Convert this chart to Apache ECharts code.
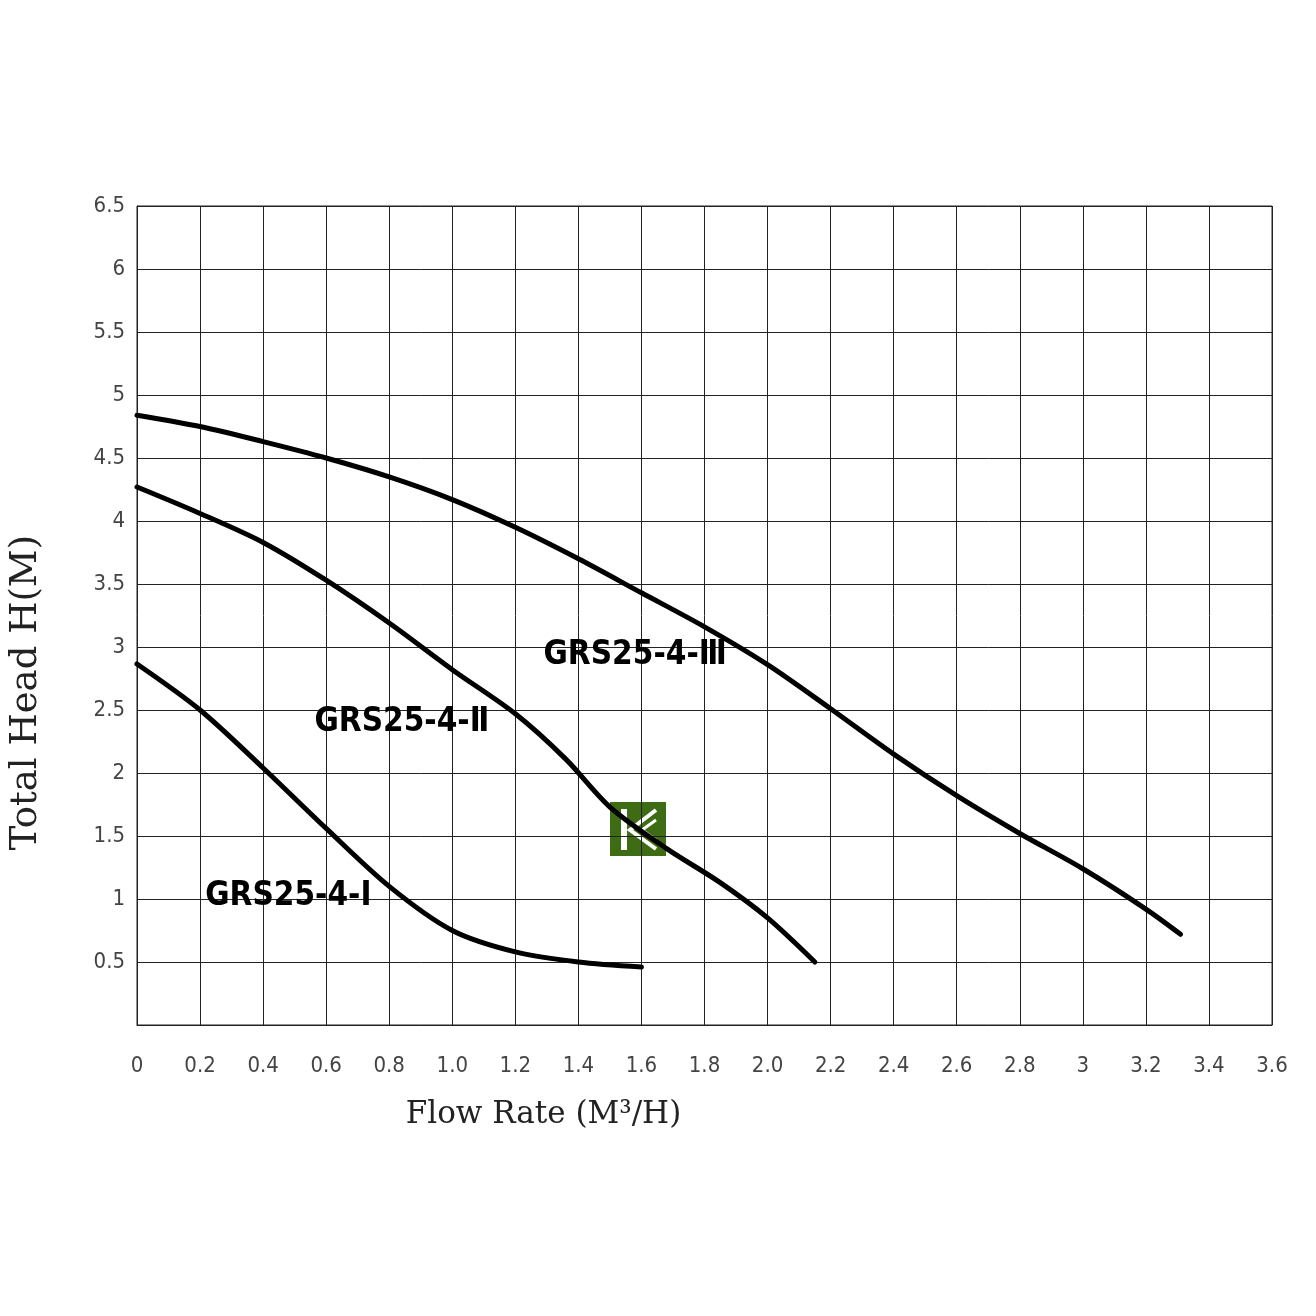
<!DOCTYPE html>
<html>
<head>
<meta charset="utf-8">
<script src="https://cdn.jsdelivr.net/npm/echarts@6/dist/echarts.min.js"></script>
<style>
html,body{margin:0;padding:0;background:#fff;}
#chart{width:1316px;height:1316px;}
</style>
</head>
<body>
<div id="chart"></div>
<script>
// ---- data ----
const xTickLabels = ['0','0.2','0.4','0.6','0.8','1.0','1.2','1.4','1.6','1.8','2.0','2.2','2.4','2.6','2.8','3','3.2','3.4','3.6'];

const flowIII = [0, 0.2, 0.4, 0.6, 0.8, 1.0, 1.2, 1.4, 1.6, 1.8, 2.0, 2.2, 2.4, 2.6, 2.8, 3.0, 3.2, 3.31];
const headIII = [4.84, 4.75, 4.63, 4.50, 4.35, 4.17, 3.95, 3.70, 3.43, 3.16, 2.86, 2.51, 2.15, 1.82, 1.52, 1.24, 0.92, 0.72];

const flowII = [0, 0.2, 0.4, 0.6, 0.8, 1.0, 1.2, 1.36, 1.5, 1.68, 1.85, 2.0, 2.15];
const headII = [4.27, 4.06, 3.83, 3.53, 3.19, 2.82, 2.47, 2.11, 1.73, 1.40, 1.13, 0.85, 0.50];

const flowI = [0, 0.2, 0.4, 0.6, 0.8, 1.0, 1.2, 1.4, 1.6];
const headI = [2.865, 2.50, 2.04, 1.56, 1.10, 0.75, 0.58, 0.50, 0.46];

const curveNames = ['GRS25-4-Ⅲ', 'GRS25-4-Ⅱ', 'GRS25-4-Ⅰ'];
const labelFlow = [1.58, 0.84, 0.48];
const labelHead = [2.93, 2.40, 1.02];

// ---- chart ----
const chart = echarts.init(document.getElementById('chart'), null, {renderer: 'canvas'});

function pairs(xs, ys) { return xs.map((x, i) => [x, ys[i]]); }

const lineStyle = {color: '#000', width: 5, cap: 'round', join: 'round'};
const tickFont = {fontFamily: 'DejaVu Sans Condensed', fontSize: 22, color: '#444'};

const option = {
  backgroundColor: '#fff',
  animation: false,
  grid: {left: 137, right: 44, top: 206, bottom: 291, show: true, borderColor: '#222', borderWidth: 1},
  xAxis: {
    type: 'value', min: 0, max: 3.6, interval: 0.2,
    axisLine: {show: true, lineStyle: {color: '#222', width: 1}},
    axisTick: {show: false},
    splitLine: {show: true, lineStyle: {color: '#222', width: 1}},
    axisLabel: Object.assign({margin: 30, formatter: v => xTickLabels[Math.round(v / 0.2)] || ''}, tickFont),
    name: 'Flow Rate (M³/H)',
    nameLocation: 'middle', nameGap: 74,
    nameTextStyle: {fontFamily: 'DejaVu Serif', fontSize: 31, color: '#222', padding: [0, 322, 0, 0]}
  },
  yAxis: {
    type: 'value', min: 0, max: 6.5, interval: 0.5,
    axisLine: {show: true, lineStyle: {color: '#222', width: 1}},
    axisTick: {show: false},
    splitLine: {show: true, lineStyle: {color: '#222', width: 1}},
    axisLabel: Object.assign({margin: 12, formatter: v => v === 0 ? '' : String(v)}, tickFont),
    name: 'Total Head H(M)',
    nameLocation: 'middle', nameGap: 92,
    nameTextStyle: {fontFamily: 'DejaVu Serif', fontSize: 37, color: '#222', padding: [0, 154, 0, 0]}
  },
  series: [
    {type: 'line', name: curveNames[0], data: pairs(flowIII, headIII), smooth: 0.3, symbol: 'none', lineStyle: lineStyle, z: 3},
    {type: 'line', name: curveNames[1], data: pairs(flowII, headII), smooth: 0.3, symbol: 'none', lineStyle: lineStyle, z: 3},
    {type: 'line', name: curveNames[2], data: pairs(flowI, headI), smooth: 0.3, symbol: 'none', lineStyle: lineStyle, z: 3},
    {
      type: 'scatter', symbolSize: 0, z: 4,
      itemStyle: {opacity: 1},
      data: curveNames.map((n, i) => ({value: [labelFlow[i], labelHead[i]], name: n})),
      label: {
        show: true, position: 'inside', formatter: p => p.name, opacity: 1,
        fontFamily: 'DejaVu Sans Condensed', fontWeight: 'bold', fontSize: 33, color: '#000'
      }
    }
  ],
  graphic: [
    {
      type: 'group', left: 610, top: 802, z: 10,
      children: [
        {type: 'rect', shape: {x: 0, y: 0, width: 56, height: 54}, style: {fill: '#3e6c15'}},
        {type: 'rect', shape: {x: 11, y: 7, width: 6, height: 41}, style: {fill: '#fff'}},
        {type: 'polyline', shape: {points: [[46, 8], [20, 28], [46, 47]]}, style: {stroke: '#fff', lineWidth: 4, fill: null}},
        {type: 'polyline', shape: {points: [[46, 18], [32, 28], [46, 38]]}, style: {stroke: '#fff', lineWidth: 3, fill: null}}
      ]
    }
  ]
};
chart.setOption(option);
</script>
</body>
</html>
